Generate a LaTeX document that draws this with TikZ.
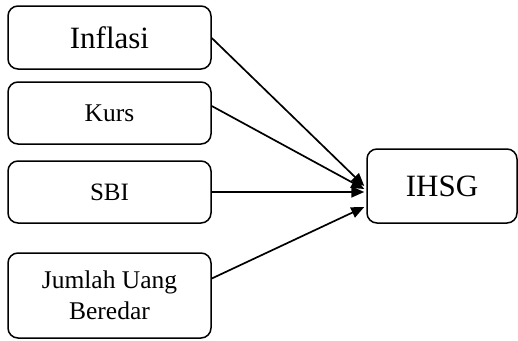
\documentclass[tikz,border=0pt]{standalone}
\usepackage{fontspec}
\setmainfont{Liberation Serif}
\usetikzlibrary{arrows.meta}
\begin{document}
\begin{tikzpicture}[x=1pt,y=-1pt,
  box/.style={draw,line width=1.5pt,rounded corners=10pt,inner sep=0pt,align=center},
  link/.style={line width=1.7pt,-{Triangle[length=13pt,width=11pt]}}]
\useasboundingbox (0,0) rectangle (518,340);
\node[box,minimum width=203pt,minimum height=63pt,font=\fontsize{31}{34}\selectfont] (inf) at (109.5,37.5) {Inflasi};
\node[box,minimum width=203pt,minimum height=62pt,font=\fontsize{25.5}{28}\selectfont] (kurs) at (109.5,113) {Kurs};
\node[box,minimum width=203pt,minimum height=62pt,font=\fontsize{25}{28}\selectfont] (sbi) at (109.5,192) {SBI};
\node[box,minimum width=203pt,minimum height=85pt,font=\fontsize{25.5}{31}\selectfont] (jum) at (109.5,295.5) {Jumlah Uang\\Beredar};
\node[box,minimum width=150pt,minimum height=74pt,font=\fontsize{31}{34}\selectfont] (ihsg) at (442,186) {IHSG};
\draw[link] ([yshift=-0.5pt]inf.east) -- ([xshift=-2pt]ihsg.west);
\draw[link] ([yshift=7pt]kurs.east) -- ([xshift=-2pt,yshift=-3pt]ihsg.west);
\draw[link] (sbi.east) -- ([xshift=-2pt,yshift=-6pt]ihsg.west);
\draw[link] ([yshift=17pt]jum.east) -- ([xshift=-2pt,yshift=-21pt]ihsg.west);
\end{tikzpicture}
\end{document}
